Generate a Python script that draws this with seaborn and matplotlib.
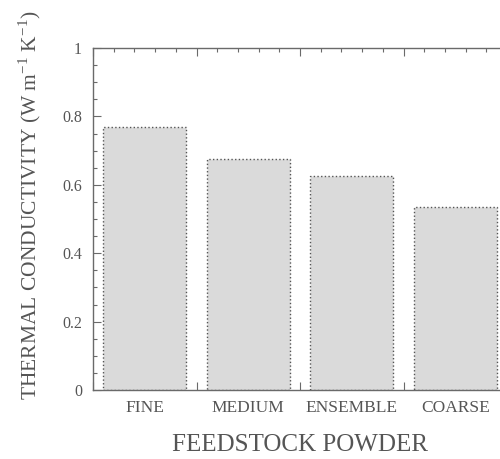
import numpy as np
import pandas as pd
import matplotlib
matplotlib.use("Agg")
import matplotlib.pyplot as plt
from matplotlib.ticker import MultipleLocator, FixedLocator, NullFormatter
import seaborn as sns

categories = ["FINE", "MEDIUM", "ENSEMBLE", "COARSE"]
conductivity = [0.77, 0.675, 0.625, 0.535]
y_ticks = [0, 0.2, 0.4, 0.6, 0.8, 1]
y_tick_labels = ["0", "0.2", "0.4", "0.6", "0.8", "1"]

sns.set_style("ticks")
plt.rcParams["font.family"] = ["Liberation Serif", "DejaVu Serif"]

text_color = "#555555"
axis_color = "#6a6a6a"

df = pd.DataFrame({"powder": categories, "k": conductivity})

fig = plt.figure(figsize=(5.0, 4.59), dpi=100)
ax = fig.add_axes([0.186, 0.1503, 0.828, 0.745])

sns.barplot(data=df, x="powder", y="k", color="#dadada", saturation=1,
            width=0.8, edgecolor="#555555", linewidth=1.0, linestyle=":", ax=ax)

ax.set_xlim(-0.5, 3.5)
ax.set_ylim(0, 1)
ax.set_yticks(y_ticks)
ax.set_yticklabels(y_tick_labels)
ax.yaxis.set_minor_locator(MultipleLocator(0.05))

# category labels without tick marks, plus fine ticks along x
ax.set_xticks(range(len(categories)))
ax.set_xticklabels(categories)
minor_x = [-0.5 + 0.2 * k for k in range(21)]
minor_x = [v for v in minor_x if abs((v + 0.5) % 1.0) > 1e-6 and abs((v + 0.5) % 1.0 - 1) > 1e-6]
ax.xaxis.set_minor_locator(FixedLocator(minor_x))

ax.tick_params(axis="x", which="major", length=0, pad=7, labelsize=12.5, colors=text_color)
ax.tick_params(axis="both", which="minor", direction="in", length=3, width=0.8,
               top=True, bottom=True, left=True, right=False, color=axis_color)
ax.tick_params(axis="y", which="major", direction="in", length=6, width=0.8,
               left=True, right=False, labelsize=11.5, color=axis_color, labelcolor=text_color, pad=8)

# longer ticks between categories on top and bottom
for side in ("top", "bottom"):
    sec = ax.secondary_xaxis(side)
    sec.set_xticks([-0.5, 0.5, 1.5, 2.5, 3.5])
    sec.xaxis.set_major_formatter(NullFormatter())
    sec.tick_params(direction="in", length=6, width=0.8, color=axis_color)
    sec.spines[side].set_visible(False)

for s in ax.spines.values():
    s.set_color(axis_color)
    s.set_linewidth(1.0)

ax.set_xlabel("FEEDSTOCK POWDER", fontsize=18, color=text_color, labelpad=13)
ax.set_ylabel(r"THERMAL CONDUCTIVITY (W m$^{\mathregular{-1}}$ K$^{\mathregular{-1}}$)",
              fontsize=15.5, color=text_color, labelpad=14)
ax.yaxis.label.set_y(0.54)

fig.savefig("out.png", dpi=100)
